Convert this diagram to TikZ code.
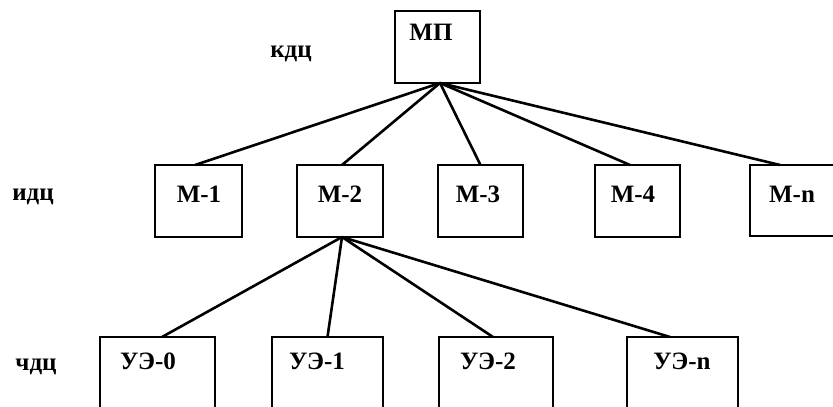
\documentclass[tikz,border=0pt]{standalone}
\usepackage{fontspec}
\setmainfont{Liberation Serif}
\usetikzlibrary{calc}
\begin{document}
\begin{tikzpicture}[x=1pt,y=-1pt,
  box/.style={draw=black,line width=2.8pt,inner sep=0pt,outer sep=0pt},
  lbl/.style={font=\fontsize{25}{27}\selectfont\bfseries,inner sep=0pt},
  link/.style={line width=2.6pt}]
\useasboundingbox (0,0) rectangle (833,407);
\begin{scope}
\clip (0,0) rectangle (833,407);
% boxes
\node[box,minimum width=85,minimum height=72] (mp) at (437.5,47) {};
\node[box,minimum width=87,minimum height=72] (m1) at (198.5,201) {};
\node[box,minimum width=86,minimum height=72] (m2) at (340,201) {};
\node[box,minimum width=85,minimum height=72] (m3) at (480.5,201) {};
\node[box,minimum width=85,minimum height=72] (m4) at (637.5,201) {};
\node[box,minimum width=100,minimum height=71] (mn) at (800,200.5) {};
\node[box,minimum width=115,minimum height=93] (u0) at (157.5,383.5) {};
\node[box,minimum width=111,minimum height=93] (u1) at (327.5,383.5) {};
\node[box,minimum width=114,minimum height=93] (u2) at (496,383.5) {};
\node[box,minimum width=111,minimum height=93] (un) at (682.5,383.5) {};
\end{scope}
% connectors
\draw[link] ($(mp.south)+(2.5,0)$) -- ($(m1.north)+(-3.5,0)$);
\draw[link] ($(mp.south)+(2.5,0)$) -- ($(m2.north)+(2,0)$);
\draw[link] ($(mp.south)+(2.5,0)$) -- (m3.north);
\draw[link] ($(mp.south)+(2.5,0)$) -- ($(m4.north)+(-7.5,0)$);
\draw[link] ($(mp.south)+(2.5,0)$) -- ($(mn.north west)+(30,0)$);
\draw[link] ($(m2.south)+(2,0)$) -- ($(u0.north)+(4.5,0)$);
\draw[link] ($(m2.south)+(2,0)$) -- (u1.north);
\draw[link] ($(m2.south)+(2,0)$) -- ($(u2.north)+(-3,0)$);
\draw[link] ($(m2.south)+(2,0)$) -- ($(un.north)+(-12.5,0)$);
% texts
\node[lbl] (tmp) at (431,32) {МП};
\node[lbl] (tm1) at (199,194) {М-1};
\node[lbl] (tm2) at (340,194) {М-2};
\node[lbl] (tm3) at (478,194) {М-3};
\node[lbl] (tm4) at (633,194) {М-4};
\node[lbl] (tmn) at (792,194) {М-n};
\node[lbl] (tu0) at (148,361) {УЭ-0};
\node[lbl] (tu1) at (317,361) {УЭ-1};
\node[lbl] (tu2) at (488,361) {УЭ-2};
\node[lbl] (tun) at (682,361) {УЭ-n};
\node[lbl] (kdc) at (291,54) {кдц};
\node[lbl] (idc) at (33,197) {идц};
\node[lbl] (chdc) at (36,367) {чдц};
\end{tikzpicture}
\end{document}
